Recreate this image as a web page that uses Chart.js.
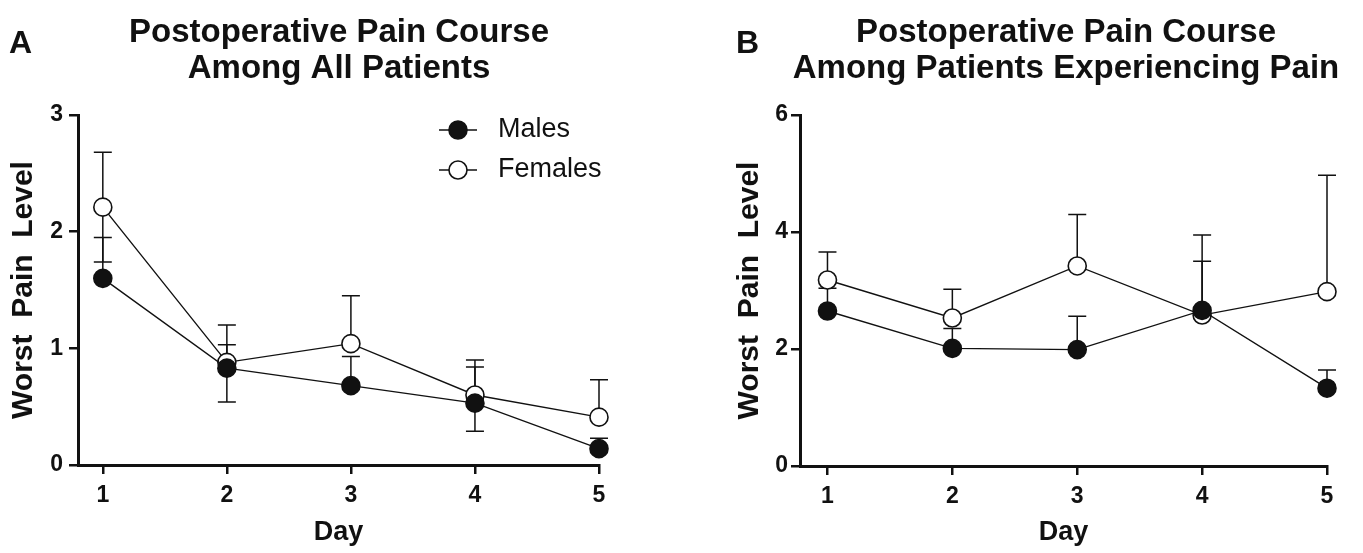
<!DOCTYPE html>
<html><head><meta charset="utf-8">
<script src="https://cdn.jsdelivr.net/npm/chart.js@4.4.1/dist/chart.umd.min.js"></script>
<style>
html,body{margin:0;padding:0;background:#fff;width:1363px;height:553px;overflow:hidden}
canvas{position:absolute;top:0}
#cA{left:0}
#cB{left:680px}
</style></head><body>
<canvas id="cA" width="680" height="553"></canvas>
<canvas id="cB" width="683" height="553"></canvas>
<script>
// ---- data ----
const days = [1, 2, 3, 4, 5];
const dayTicks = [1, 2, 3, 4, 5];
const seriesNames = ['Males', 'Females'];
// Panel A: all patients
const maleAllMean    = [1.60, 0.83, 0.68, 0.53, 0.14];
const maleAllUpper   = [1.95, 1.03, 0.93, 0.84, 0.23];
const maleAllLower   = [null, null, null, null, null];
const femaleAllMean  = [2.21, 0.88, 1.04, 0.60, 0.41];
const femaleAllUpper = [2.68, 1.20, 1.45, 0.90, 0.73];
const femaleAllLower = [1.74, 0.54, null, 0.29, null];
// Panel B: patients experiencing pain
const malePainMean    = [2.65, 2.01, 1.99, 2.66, 1.33];
const malePainUpper   = [3.04, 2.35, 2.56, 3.50, 1.64];
const femalePainMean  = [3.18, 2.53, 3.42, 2.58, 2.98];
const femalePainUpper = [3.66, 3.02, 4.30, 3.95, 4.97];
const yTicksAll  = [0, 1, 2, 3];
const yTicksPain = [0, 2, 4, 6];
const titleA = ['Postoperative Pain Course', 'Among All Patients'];
const titleB = ['Postoperative Pain Course', 'Among Patients Experiencing Pain'];
const yTitle = 'Worst  Pain  Level';
const xTitle = 'Day';

const FAMILY = "'Liberation Sans', Arial, Helvetica, sans-serif";
Chart.defaults.font.family = FAMILY;
Chart.defaults.color = '#111';

const INK = '#111';

function toPoints(vals) { return days.map((d, i) => ({x: d, y: vals[i]})); }

function dataset(label, mean, upper, lower, filled) {
  return {
    label,
    data: toPoints(mean),
    errUpper: upper,
    errLower: lower,
    borderColor: INK,
    borderWidth: 1.4,
    pointRadius: 9,
    pointHoverRadius: 9,
    pointBorderWidth: 1.6,
    pointBorderColor: INK,
    pointBackgroundColor: filled ? INK : '#fff',
    backgroundColor: filled ? INK : '#fff',
    tension: 0,
    fill: false,
    clip: false
  };
}

const errorBars = {
  id: 'errorBars',
  beforeDatasetsDraw(chart) {
    const ctx = chart.ctx, xs = chart.scales.x, ys = chart.scales.y;
    ctx.save();
    ctx.strokeStyle = INK;
    ctx.lineWidth = 1.5;
    chart.data.datasets.forEach(ds => {
      ds.data.forEach((p, i) => {
        const x = xs.getPixelForValue(p.x), y = ys.getPixelForValue(p.y);
        [ds.errUpper, ds.errLower].forEach(arr => {
          if (!arr || arr[i] == null) return;
          const ye = ys.getPixelForValue(arr[i]);
          ctx.beginPath();
          ctx.moveTo(x, y); ctx.lineTo(x, ye);
          ctx.moveTo(x - 9, ye); ctx.lineTo(x + 9, ye);
          ctx.stroke();
        });
      });
    });
    ctx.restore();
  }
};

const panelTitle = {
  id: 'panelTitle',
  afterDraw(chart, args, opts) {
    const ctx = chart.ctx;
    ctx.save();
    ctx.fillStyle = INK;
    ctx.textBaseline = 'alphabetic';
    ctx.font = 'bold 32px ' + FAMILY;
    ctx.textAlign = 'left';
    ctx.fillText(opts.letter, opts.letterX, 53);
    ctx.font = 'bold 33px ' + FAMILY;
    ctx.textAlign = 'center';
    opts.lines.forEach((t, i) => ctx.fillText(t, opts.centerX, 42 + i * 36));
    ctx.restore();
  }
};

const insideLegend = {
  id: 'insideLegend',
  afterDraw(chart, args, opts) {
    if (!opts.show) return;
    const ctx = chart.ctx;
    ctx.save();
    chart.data.datasets.forEach((ds, i) => {
      const y = opts.y + i * 40;
      ctx.strokeStyle = INK;
      ctx.lineWidth = 1.4;
      ctx.beginPath();
      ctx.moveTo(opts.x - 19, y); ctx.lineTo(opts.x + 19, y);
      ctx.stroke();
      ctx.beginPath();
      ctx.arc(opts.x, y, 9, 0, Math.PI * 2);
      ctx.fillStyle = ds.pointBackgroundColor;
      ctx.fill();
      ctx.lineWidth = 1.6;
      ctx.stroke();
      ctx.fillStyle = INK;
      ctx.font = '27px ' + FAMILY;
      ctx.textAlign = 'left';
      ctx.textBaseline = 'middle';
      ctx.fillText(ds.label, opts.x + 40, y);
    });
    ctx.restore();
  }
};

function makeChart(id, cfg) {
  return new Chart(document.getElementById(id), {
    type: 'line',
    data: {datasets: cfg.datasets},
    plugins: [errorBars, panelTitle, insideLegend],
    options: {
      responsive: false,
      animation: false,
      devicePixelRatio: 1,
      events: [],
      layout: {padding: {left: 0, top: 115, right: cfg.padRight, bottom: 0}},
      plugins: {
        legend: {display: false},
        tooltip: {enabled: false},
        title: {display: false},
        panelTitle: cfg.title,
        insideLegend: cfg.legend
      },
      scales: {
        x: {
          type: 'linear',
          min: cfg.xMin, max: 5,
          afterBuildTicks: s => { s.ticks = dayTicks.map(v => ({value: v})); },
          afterFit: s => { s.height = cfg.xHeight; },
          border: {display: true, color: INK, width: 3},
          grid: {drawOnChartArea: false, drawTicks: true, tickLength: 9, color: INK, lineWidth: 2.5},
          ticks: {font: {size: 23, weight: 'bold'}, color: INK, padding: 8, maxRotation: 0},
          title: {display: true, text: xTitle, font: {size: 27, weight: 'bold'}, color: INK, padding: {top: 0, bottom: 4}}
        },
        y: {
          type: 'linear',
          min: 0, max: cfg.yMax,
          afterBuildTicks: s => { s.ticks = cfg.yTicks.map(v => ({value: v})); },
          afterFit: s => { s.width = cfg.yWidth; },
          border: {display: true, color: INK, width: 3},
          grid: {drawOnChartArea: false, drawTicks: true, tickLength: 9, color: INK, lineWidth: 2.5},
          ticks: {font: {size: 23, weight: 'bold'}, color: INK, padding: cfg.yPad},
          title: {display: true, text: yTitle, font: {size: 30, weight: 'bold'}, color: INK, padding: {top: cfg.yTitlePad, bottom: 0}}
        }
      }
    }
  });
}

makeChart('cA', {
  datasets: [
    dataset(seriesNames[0], maleAllMean, maleAllUpper, maleAllLower, true),
    dataset(seriesNames[1], femaleAllMean, femaleAllUpper, femaleAllLower, false)
  ],
  padRight: 81, xMin: 0.8, xHeight: 88, yWidth: 78, yMax: 3, yTicks: yTicksAll, yPad: 6, yTitlePad: 6,
  title: {letter: 'A', letterX: 9, lines: titleA, centerX: 339},
  legend: {show: true, x: 458, y: 130}
});

makeChart('cB', {
  datasets: [
    dataset(seriesNames[0], malePainMean, malePainUpper, null, true),
    dataset(seriesNames[1], femalePainMean, femalePainUpper, null, false)
  ],
  padRight: 36, xMin: 0.78, xHeight: 87, yWidth: 120, yMax: 6, yTicks: yTicksPain, yPad: 3, yTitlePad: 52,
  title: {letter: 'B', letterX: 56, lines: titleB, centerX: 386},
  legend: {show: false}
});
</script>
</body></html>
